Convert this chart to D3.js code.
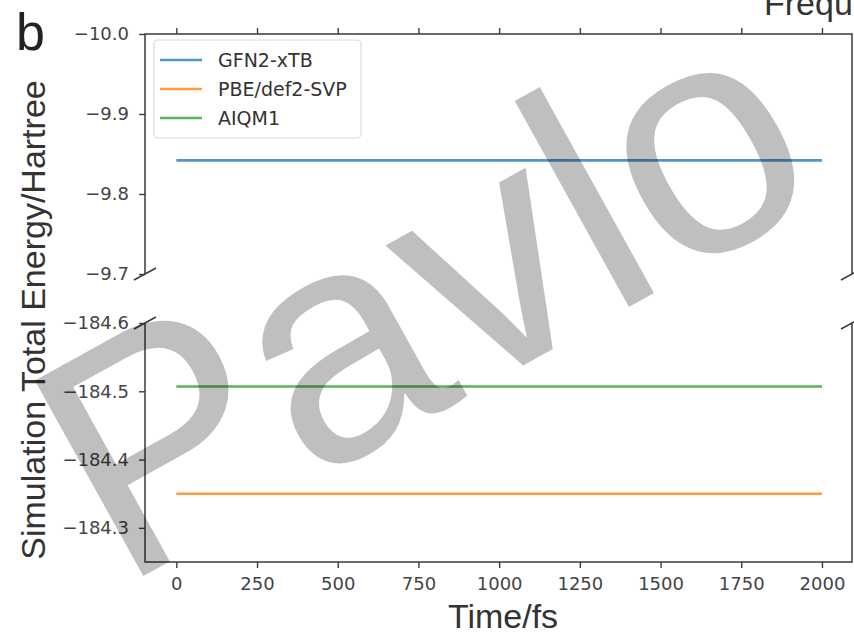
<!DOCTYPE html>
<meta charset="utf-8">
<head>
<title>Simulation Total Energy</title>
<style>
    body { margin: 0; background: #fff; }
    .tick text { font-family: "DejaVu Sans", sans-serif; font-size: 18px; fill: #444; }
    .tick line { stroke: #3c3c3c; stroke-width: 1.4px; }
    .spine { stroke: #3a3a3a; stroke-width: 1.5px; fill: none; }
    .title { font-family: "Liberation Sans", Arial, sans-serif; fill: #333; }
    .legend text { font-family: "DejaVu Sans", sans-serif; font-size: 19px; fill: #333; }
</style>
</head>
<body>
<svg width="854" height="635"></svg>
<script src="https://d3js.org/d3.v7.min.js"></script>
<script>
    // data
    var methods = ["GFN2-xTB", "PBE/def2-SVP", "AIQM1"];
    var colors = ["#1f77b4", "#ff7f0e", "#2ca02c"];
    var panel = ["top", "bottom", "bottom"];       // which half of the broken axis
    var energy = [-9.842, -184.350, -184.507];      // constant over the run
    var times = [0, 2000];
    var xTicks = [0, 250, 500, 750, 1000, 1250, 1500, 1750, 2000];
    var yTopTicks = [-10.0, -9.9, -9.8, -9.7];
    var yBotTicks = [-184.6, -184.5, -184.4, -184.3];

    var svg = d3.select("svg");
    var left = 145, right = 852;

    var x = d3.scaleLinear().domain([-97, 2093]).range([left, right]);
    var yTop = d3.scaleLinear().domain([-10.0, -9.7]).range([34, 274]);
    var yBot = d3.scaleLinear().domain([-184.6, -184.25]).range([323, 562]);

    var fmt = function(d) { return d3.format(".1f")(d).replace("-", "\u2212"); };

    // axes
    svg.append("g")
        .attr("transform", "translate(" + left + ",0)")
        .call(d3.axisLeft(yTop).tickValues(yTopTicks).tickSize(6).tickPadding(10).tickFormat(fmt));
    svg.append("g")
        .attr("transform", "translate(" + left + ",0)")
        .call(d3.axisLeft(yBot).tickValues(yBotTicks).tickSize(6).tickPadding(10).tickFormat(fmt));
    svg.append("g")
        .attr("transform", "translate(0," + yTop.range()[0] + ")")
        .call(d3.axisTop(x).tickValues(xTicks).tickSize(6).tickFormat(""));
    svg.append("g")
        .attr("transform", "translate(0," + yBot.range()[1] + ")")
        .call(d3.axisBottom(x).tickValues(xTicks).tickSize(6).tickPadding(9).tickFormat(d3.format("d")));
    svg.selectAll(".domain").remove();

    // spines
    var t0 = yTop.range()[0], t1 = yTop.range()[1], b0 = yBot.range()[0], b1 = yBot.range()[1];
    svg.append("path").attr("class", "spine")
        .attr("d", "M" + left + "," + t1 + "V" + t0 + "H" + right + "V" + t1);
    svg.append("path").attr("class", "spine")
        .attr("d", "M" + left + "," + b0 + "V" + b1 + "H" + right + "V" + b0);

    // break marks
    [[left, t1], [right, t1], [left, b0], [right, b0]].forEach(function(p) {
        svg.append("line").attr("class", "spine")
            .attr("x1", p[0] - 11).attr("y1", p[1] + 6)
            .attr("x2", p[0] + 11).attr("y2", p[1] - 6);
    });

    // series
    methods.forEach(function(m, i) {
        var y = panel[i] === "top" ? yTop : yBot;
        svg.append("path")
            .datum(times)
            .attr("fill", "none")
            .attr("stroke", colors[i])
            .attr("stroke-opacity", 0.78)
            .attr("stroke-width", 2.6)
            .attr("d", d3.line().x(function(d) { return x(d); }).y(function() { return y(energy[i]); }));
    });

    // legend
    var lg = svg.append("g").attr("class", "legend");
    lg.append("rect")
        .attr("x", 154).attr("y", 40).attr("width", 207).attr("height", 98).attr("rx", 4)
        .attr("fill", "#fff").attr("stroke", "#dadada").attr("stroke-width", 1.2);
    methods.forEach(function(m, i) {
        var yy = 60 + i * 29;
        lg.append("line").attr("x1", 160).attr("x2", 202).attr("y1", yy).attr("y2", yy)
            .attr("stroke", colors[i]).attr("stroke-opacity", 0.78).attr("stroke-width", 2.6);
        lg.append("text").attr("x", 218).attr("y", yy + 7).text(m);
    });

    // titles
    svg.append("text").attr("class", "title")
        .attr("transform", "translate(45,320) rotate(-90)")
        .attr("text-anchor", "middle").style("font-size", "34px")
        .text("Simulation Total Energy/Hartree");
    svg.append("text").attr("class", "title")
        .attr("x", 503).attr("y", 628)
        .attr("text-anchor", "middle").style("font-size", "34px")
        .text("Time/fs");
    svg.append("text").attr("class", "title")
        .attr("x", 16).attr("y", 50).style("font-size", "52px").style("fill", "#222")
        .text("b");
    svg.append("text").attr("class", "title")
        .attr("x", 764).attr("y", 15).style("font-size", "34px")
        .text("Frequency");

    // watermark
    svg.append("text")
        .attr("transform", "translate(120,589) rotate(-29)")
        .style("font-family", "'Liberation Sans', Arial, sans-serif")
        .style("font-size", "325px")
        .style("fill", "#000").style("fill-opacity", 0.25)
        .text("Pavlo");
</script>
</body>
